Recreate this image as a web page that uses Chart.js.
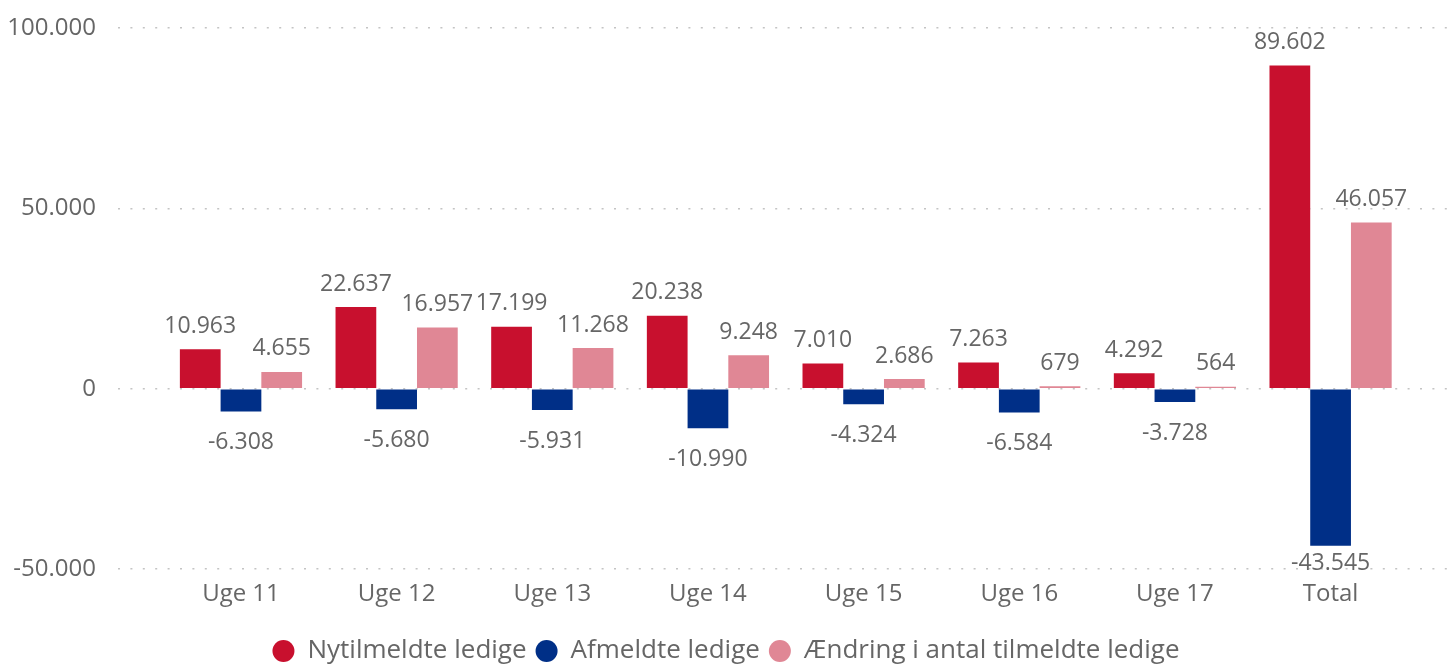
<!DOCTYPE html>
<html>
<head>
<meta charset="utf-8">
<script src="https://cdn.jsdelivr.net/npm/chart.js@4.4.1/dist/chart.umd.min.js"></script>
<style>
  body { margin: 0; background: #fff; }
  #wrap { width: 1456px; height: 667px; }
</style>
</head>
<body>
<div id="wrap"><canvas id="myChart" width="1456" height="667"></canvas></div>
<script>
const categories = ["Uge 11", "Uge 12", "Uge 13", "Uge 14", "Uge 15", "Uge 16", "Uge 17", "Total"];
const nytilmeldte = [10963, 22637, 17199, 20238, 7010, 7263, 4292, 89602];
const afmeldte = [-6308, -5680, -5931, -10990, -4324, -6584, -3728, -43545];
const aendring = [4655, 16957, 11268, 9248, 2686, 679, 564, 46057];
const yTicks = [-50000, 0, 50000, 100000];

const FONT = "'Open Sans', 'Noto Sans', sans-serif";
const GREY = "#666666";

// danish number format: 10.963, -43.545
const fmt = (v) => {
	const s = Math.abs(v).toString().replace(/\B(?=(\d{3})+(?!\d))/g, ".");
	return v < 0 ? "-" + s : s;
};

const toPoints = (arr) => arr.map((v, i) => ({ x: i, y: v }));

// simple value labels above / below each bar
const valueLabels = {
	id: "valueLabels",
	afterDatasetsDraw(chart) {
		const { ctx, chartArea } = chart;
		ctx.save();
		ctx.font = "23px " + FONT;
		ctx.fillStyle = GREY;
		ctx.textAlign = "center";
		ctx.textBaseline = "middle";
		chart.data.datasets.forEach((ds, di) => {
			const meta = chart.getDatasetMeta(di);
			meta.data.forEach((bar, i) => {
				const v = ds.data[i].y;
				let y;
				if (v >= 0) {
					y = bar.y - 23;
				} else {
					y = Math.min(bar.y + 31, chartArea.bottom - 6);
				}
				ctx.fillText(fmt(v), bar.x, y);
			});
		});
		ctx.restore();
	},
};

const ctx = document.getElementById("myChart");

new Chart(ctx, {
	type: "bar",
	data: {
		datasets: [
			{
				label: "Nytilmeldte ledige",
				data: toPoints(nytilmeldte),
				backgroundColor: "#C8102E",
			},
			{
				label: "Afmeldte ledige",
				data: toPoints(afmeldte),
				backgroundColor: "#002F87",
			},
			{
				label: "Ændring i antal tilmeldte ledige",
				data: toPoints(aendring),
				backgroundColor: "#E08795",
			},
		],
	},
	options: {
		responsive: false,
		animation: false,
		layout: {
			padding: { top: 28, right: 4, left: 0, bottom: -7 },
		},
		datasets: {
			bar: {
				barPercentage: 1,
				categoryPercentage: 0.785,
				borderWidth: 0,
			},
		},
		plugins: {
			tooltip: { enabled: false },
			legend: {
				position: "bottom",
				labels: {
					usePointStyle: true,
					pointStyle: "circle",
					pointStyleWidth: 22,
					boxHeight: 15.5,
					padding: 9,
					color: GREY,
					font: { family: FONT, size: 26 },
				},
			},
		},
		scales: {
			x: {
				type: "linear",
				offset: false,
				min: -0.79,
				max: 7.78,
				afterBuildTicks: (scale) => {
					scale.ticks = categories.map((c, i) => ({ value: i }));
				},
				afterFit: (scale) => {
					scale.height = 60;
					scale.paddingLeft = 0;
					scale.paddingRight = 0;
				},
				grid: { display: false, drawTicks: false },
				border: { display: false },
				ticks: {
					padding: 11,
					color: GREY,
					font: { family: FONT, size: 24 },
					callback: (v) => categories[v] ?? "",
				},
			},
			y: {
				min: -50000,
				max: 100000,
				afterBuildTicks: (scale) => {
					scale.ticks = yTicks.map((v) => ({ value: v }));
				},
				afterFit: (scale) => {
					scale.width = 118;
					scale.paddingTop = 0;
					scale.paddingBottom = 0;
				},
				grid: {
					color: "#c4c4c4",
					lineWidth: 1.5,
					drawTicks: false,
				},
				border: { display: false, dash: [2, 10.4] },
				ticks: {
					padding: 22,
					color: GREY,
					font: { family: FONT, size: 24 },
					callback: (v) => fmt(v),
				},
			},
		},
	},
	plugins: [valueLabels],
});
</script>
</body>
</html>
